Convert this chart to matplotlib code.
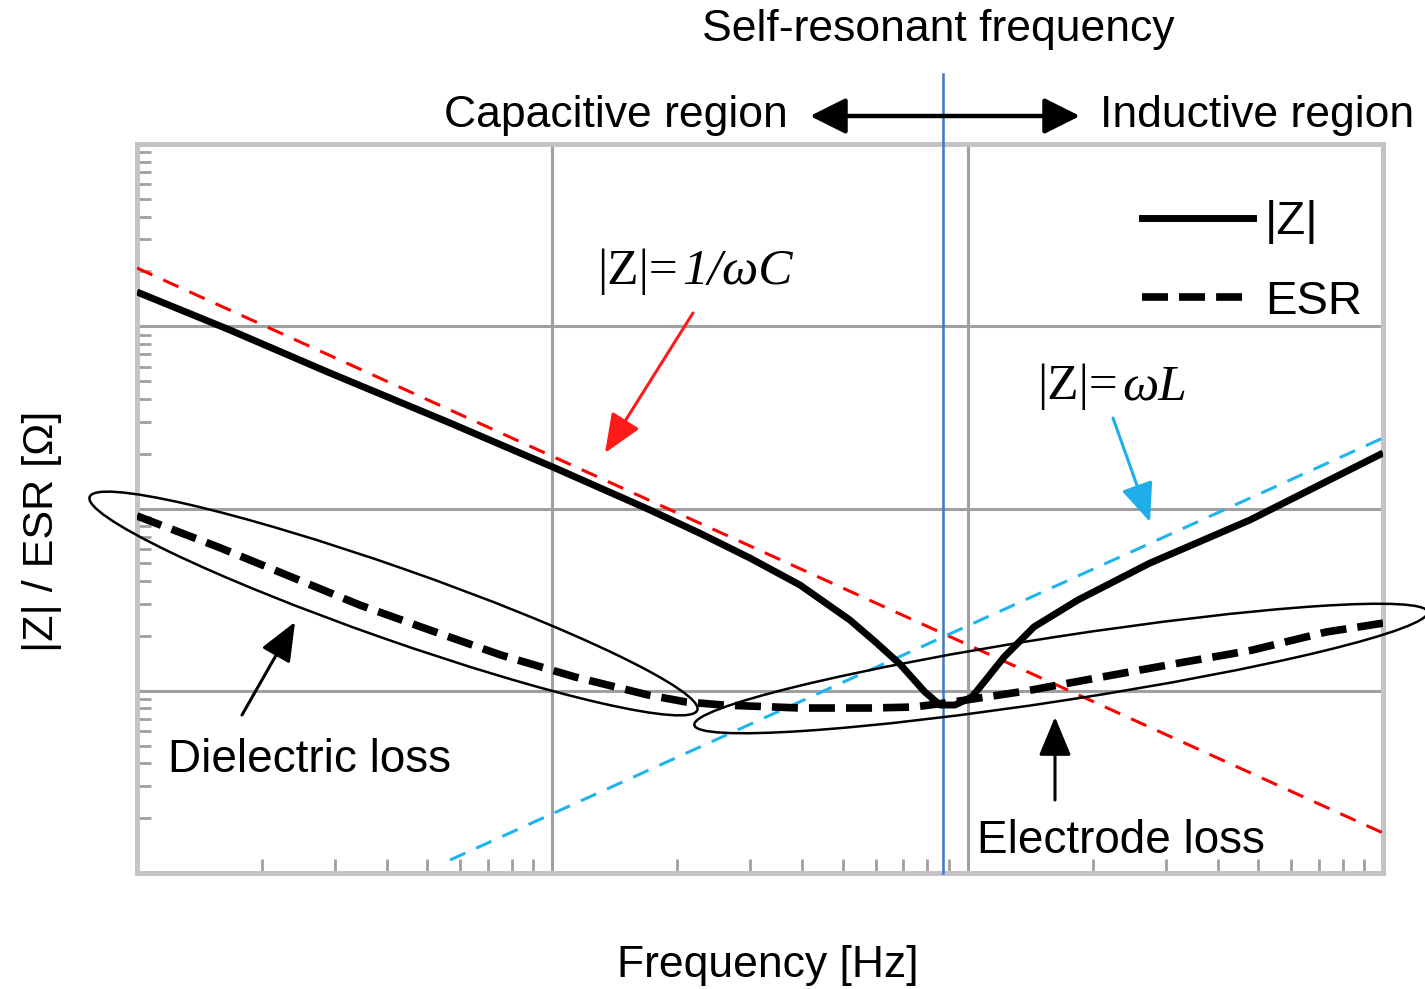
import matplotlib
matplotlib.use("Agg")
import matplotlib.pyplot as plt
from matplotlib.lines import Line2D
from matplotlib.patches import Ellipse, FancyArrowPatch

# ---------------- data ----------------
z_freq = [1.0, 1.675, 2.915, 5.67, 10.15, 17.19, 22.7, 29.9, 39.5, 52.1,
          60.0, 68.7, 78.9, 85.8, 93.2, 102.4, 111.0, 122.3, 144.4, 184.4,
          274.8, 478.4, 1000.0]
z_mag = [1541, 953, 554, 294.7, 166.8, 98.1, 73.0, 53.5, 38.0, 24.4,
         18.5, 14.0, 9.84, 8.35, 8.35, 9.24, 11.6, 15.3, 22.4, 31.5,
         50.2, 86.5, 201.6]

esr_freq = [1.0, 1.567, 2.336, 3.443, 5.077, 7.52, 11.34, 17.0, 20.98,
            25.8, 39.5, 58.2, 74.3, 92.2, 138.2, 210.6, 322.8, 483.7, 729.4, 1000.0]
esr_val = [91.0, 61.5, 42.4, 29.5, 21.5, 15.7, 11.9, 9.48, 8.68,
           8.35, 8.04, 8.04, 8.14, 8.68, 9.97, 11.9, 14.2, 16.7, 21.0, 23.5]

cap_freq = [1.0, 1000.0]      # |Z| = 1/wC asymptote
cap_val = [2087, 1.658]
ind_freq = [5.67, 1000.0]     # |Z| = wL asymptote
ind_val = [1.178, 243.7]

srf = 87.2                    # self-resonant frequency
xlim = (1, 1000)
ylim = (1, 1e4)

# ---------------- figure ----------------
W, H = 1425, 989
fig = plt.figure(figsize=(W / 100, H / 100), dpi=100)
L, R, T, B = 137, 1383, 144, 873
ax = fig.add_axes([L / W, 1 - B / H, (R - L) / W, (B - T) / H])
ax.set_xscale("log")
ax.set_yscale("log")
ax.set_xlim(*xlim)
ax.set_ylim(*ylim)

SANS = "Liberation Sans"
SERIF = "Liberation Serif"

def fx(px):
    return px / W

def fy(py):
    return 1 - py / H

# grid & spines
ax.grid(True, which="major", color="#a0a0a0", lw=2.2, zorder=0)
for s in ax.spines.values():
    s.set_color("#c4c4c4")
    s.set_linewidth(3.6)
ax.tick_params(which="major", length=0, labelleft=False, labelbottom=False)
ax.tick_params(which="minor", direction="in", length=10, width=2,
               color="#a0a0a0", left=True, bottom=True, top=False, right=False,
               labelleft=False, labelbottom=False)

# asymptotes
ax.plot(cap_freq, cap_val, color="#ff0000", lw=2.2, dashes=(5.5, 3.9), zorder=3)
ax.plot(ind_freq, ind_val, color="#1eb4f0", lw=2.2, dashes=(5.5, 3.9), zorder=3)

# SRF vertical line (extends above axes)
ax.axvline(srf, ymin=0, ymax=(B - 74) / (B - T), color="#3f78c2", lw=1.8,
           clip_on=False, zorder=4)

# main curves
ax.plot(z_freq, z_mag, color="black", lw=5, solid_capstyle="butt",
        solid_joinstyle="round", zorder=5)
ax.plot(esr_freq, esr_val, color="black", lw=5.5, dashes=(3.4, 1.45),
        dash_capstyle="butt", dash_joinstyle="round", zorder=5)

# legend
hz = Line2D([], [], color="black", lw=5)
he = Line2D([], [], color="black", lw=5.5, dashes=(3.4, 1.45), dash_capstyle="butt")
fig.legend([hz, he], ["|Z|", "ESR"], loc="center left",
           bbox_to_anchor=(fx(1142), fy(262)), frameon=False,
           prop={"family": SANS, "size": 34}, handlelength=2.35,
           handletextpad=0.25, labelspacing=0.75, borderpad=0, borderaxespad=0)

# ellipses (annotation outlines)
for (cx, cy, a, b, ang) in [(393.5, 603.5, 322, 36, -19.33),
                            (1061, 668.5, 371, 32, 8.76)]:
    e = Ellipse((cx / 100, (H - cy) / 100), 2 * a / 100, 2 * b / 100, angle=ang,
                transform=fig.dpi_scale_trans, fill=False, ec="black", lw=1.8,
                zorder=6)
    fig.add_artist(e)

# arrows
def arrow(x0, y0, x1, y1, color, style="-|>", lw=2.2, hl=1.2, hw=0.5):
    fig.add_artist(FancyArrowPatch(
        (fx(x0), fy(y0)), (fx(x1), fy(y1)), transform=fig.transFigure,
        arrowstyle=f"{style},head_length={hl},head_width={hw}",
        mutation_scale=20, color=color, lw=lw, shrinkA=0, shrinkB=0, zorder=7))

arrow(693, 313, 605, 453, "#ff1a1a")
arrow(1113, 418, 1150, 522, "#1eaeea")
arrow(242, 715, 295, 622, "black")
arrow(1055, 800, 1055, 717, "black")
arrow(810, 116, 1080, 116, "black", style="<|-|>", lw=3.2, hl=1.1, hw=0.55)

# texts
fig.text(fx(938), fy(30), "Self-resonant frequency", family=SANS, size=32,
         ha="center", va="center")
fig.text(fx(788), fy(116), "Capacitive region", family=SANS, size=32,
         ha="right", va="center")
fig.text(fx(1100), fy(116), "Inductive region", family=SANS, size=32,
         ha="left", va="center")
fig.text(fx(168), fy(760), "Dielectric loss", family=SANS, size=33,
         ha="left", va="center")
fig.text(fx(977), fy(841), "Electrode loss", family=SANS, size=33,
         ha="left", va="center")
fig.text(fx(768), fy(965), "Frequency [Hz]", family=SANS, size=32,
         ha="center", va="center")
fig.text(fx(42), fy(531), "|Z| / ESR [Ω]", family=SANS, size=31,
         ha="center", va="center", rotation=90)

fig.text(fx(597), fy(272), "|Z|=", family=SERIF, size=37, ha="left", va="center")
fig.text(fx(682), fy(272), "1/ωC", family=SERIF, style="italic", size=37,
         ha="left", va="center")
fig.text(fx(1037), fy(387), "|Z|=", family=SERIF, size=37, ha="left", va="center")
fig.text(fx(1122), fy(387), "ωL", family=SERIF, style="italic", size=37,
         ha="left", va="center")

fig.savefig("out.png", dpi=100)
